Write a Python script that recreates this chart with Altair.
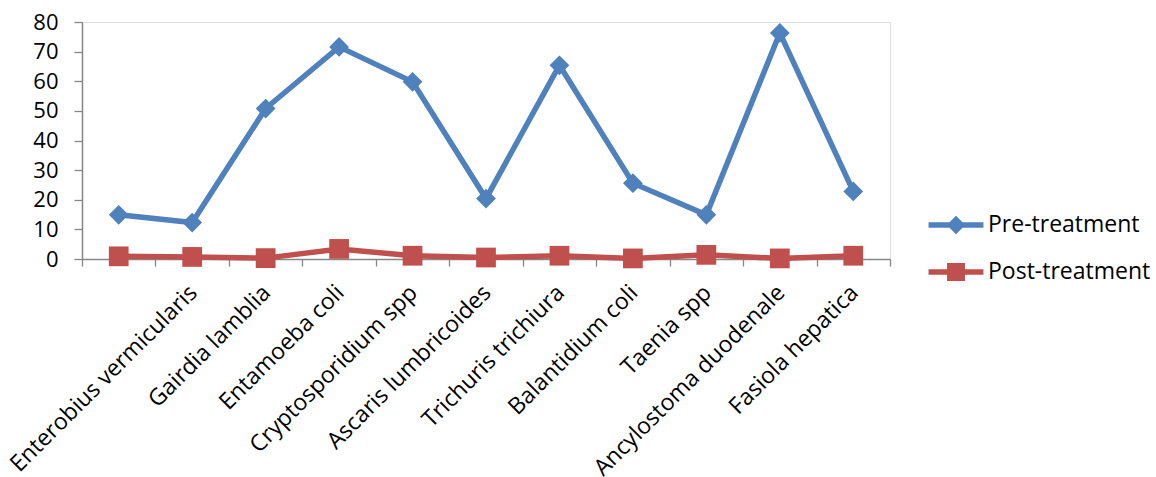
import altair as alt
import pandas as pd

# Parasite categories (the first slot carries no label) and prevalence values
categories = [
    "",
    "Enterobius vermicularis",
    "Gairdia lamblia",
    "Entamoeba coli",
    "Cryptosporidium spp",
    "Ascaris lumbricoides",
    "Trichuris trichiura",
    "Balantidium coli",
    "Taenia spp",
    "Ancylostoma duodenale",
    "Fasiola hepatica",
]
pre_treatment = [14.9, 12.3, 50.8, 71.6, 59.8, 20.4, 65.4, 25.6, 14.9, 76.3, 22.8]
post_treatment = [0.9, 0.7, 0.3, 3.4, 1.1, 0.5, 1.1, 0.2, 1.4, 0.2, 1.1]
series_names = ["Pre-treatment", "Post-treatment"]
series_colors = ["#4F81BD", "#C0504D"]
y_ticks = [0, 10, 20, 30, 40, 50, 60, 70, 80]

rows = []
for name, values in zip(series_names, [pre_treatment, post_treatment]):
    for i, (cat, v) in enumerate(zip(categories, values)):
        rows.append({"category": cat, "order": i, "series": name, "value": v})
df = pd.DataFrame(rows)

FONT = "Open Sans"
AXIS_GREY = "#868686"
LINE_WIDTH = 5.5

# Legend keys: a filled bar (the line) with the series marker in the middle
legend_paths = [
    "M-1.96,-0.2H1.96V0.2H-1.96ZM0,-0.66L0.66,0L0,0.66L-0.66,0Z",
    "M-1.96,-0.2H1.96V0.2H-1.96ZM-0.64,-0.64H0.64V0.64H-0.64Z",
]
legend_rows_y = [189, 236]

color_scale = alt.Scale(domain=series_names, range=series_colors)

x = alt.X(
    "category:N",
    sort=categories,
    scale=alt.Scale(type="band", paddingInner=0, paddingOuter=0),
    axis=alt.Axis(
        title=None,
        labelAngle=-45,
        labelAlign="right",
        labelBaseline="top",
        labelFont=FONT,
        labelFontSize=23,
        labelColor="black",
        labelPadding=15,
        labelOffset=-7,
        labelOverlap=False,
        labelLimit=0,
        tickBand="extent",
        tickSize=7,
        tickColor=AXIS_GREY,
        tickWidth=1.3,
        domainColor=AXIS_GREY,
        domainWidth=1.5,
        grid=False,
    ),
)

y = alt.Y(
    "value:Q",
    scale=alt.Scale(domain=[0, 80], nice=False),
    axis=alt.Axis(
        title=None,
        values=y_ticks,
        labelFont=FONT,
        labelFontSize=22,
        labelColor="black",
        labelPadding=16,
        tickSize=8,
        tickColor=AXIS_GREY,
        tickWidth=1.3,
        domainColor=AXIS_GREY,
        domainWidth=1.5,
        grid=False,
    ),
)

base = alt.Chart(df)

lines = base.mark_line(strokeWidth=LINE_WIDTH).encode(
    x=x,
    y=y,
    color=alt.Color("series:N", scale=color_scale, sort=series_names, legend=None),
    detail="series:N",
    order="order:Q",
)

points = base.mark_point(filled=True, opacity=1, size=390).encode(
    x=x,
    y=y,
    color=alt.Color("series:N", scale=color_scale, sort=series_names, legend=None),
    shape=alt.Shape(
        "series:N",
        scale=alt.Scale(domain=series_names, range=["diamond", "square"]),
        sort=series_names,
        legend=None,
    ),
)

# One legend-only layer per series (its own marks are drawn at zero size)
legend_layers = []
for name, col, path, ly in zip(series_names, series_colors, legend_paths, legend_rows_y):
    legend_layers.append(
        alt.Chart(df[df["series"] == name])
        .mark_point(filled=True, size=0, fill=col)
        .encode(
            x=x,
            y=y,
            shape=alt.Shape(
                "series:N",
                scale=alt.Scale(domain=[name], range=[path]),
                legend=alt.Legend(
                    title=None,
                    orient="none",
                    legendX=860,
                    legendY=ly,
                    symbolSize=784,
                    symbolStrokeWidth=0,
                    symbolFillColor=col,
                    symbolOpacity=1,
                    labelFont=FONT,
                    labelFontSize=23,
                    labelColor="black",
                    labelOffset=18,
                    labelLimit=0,
                ),
            ),
        )
    )

chart = (
    alt.layer(lines, points, *legend_layers)
    .resolve_scale(shape="independent")
    .resolve_legend(shape="independent")
    .properties(
        width=808,
        height=237,
        autosize=alt.AutoSizeParams(type="none"),
        padding={"left": 82, "top": 22, "right": 266, "bottom": 218},
    )
    .configure_view(stroke=None)
    .configure(background="white")
)

chart.save("out.html", embed_options={"renderer": "svg", "actions": False})
